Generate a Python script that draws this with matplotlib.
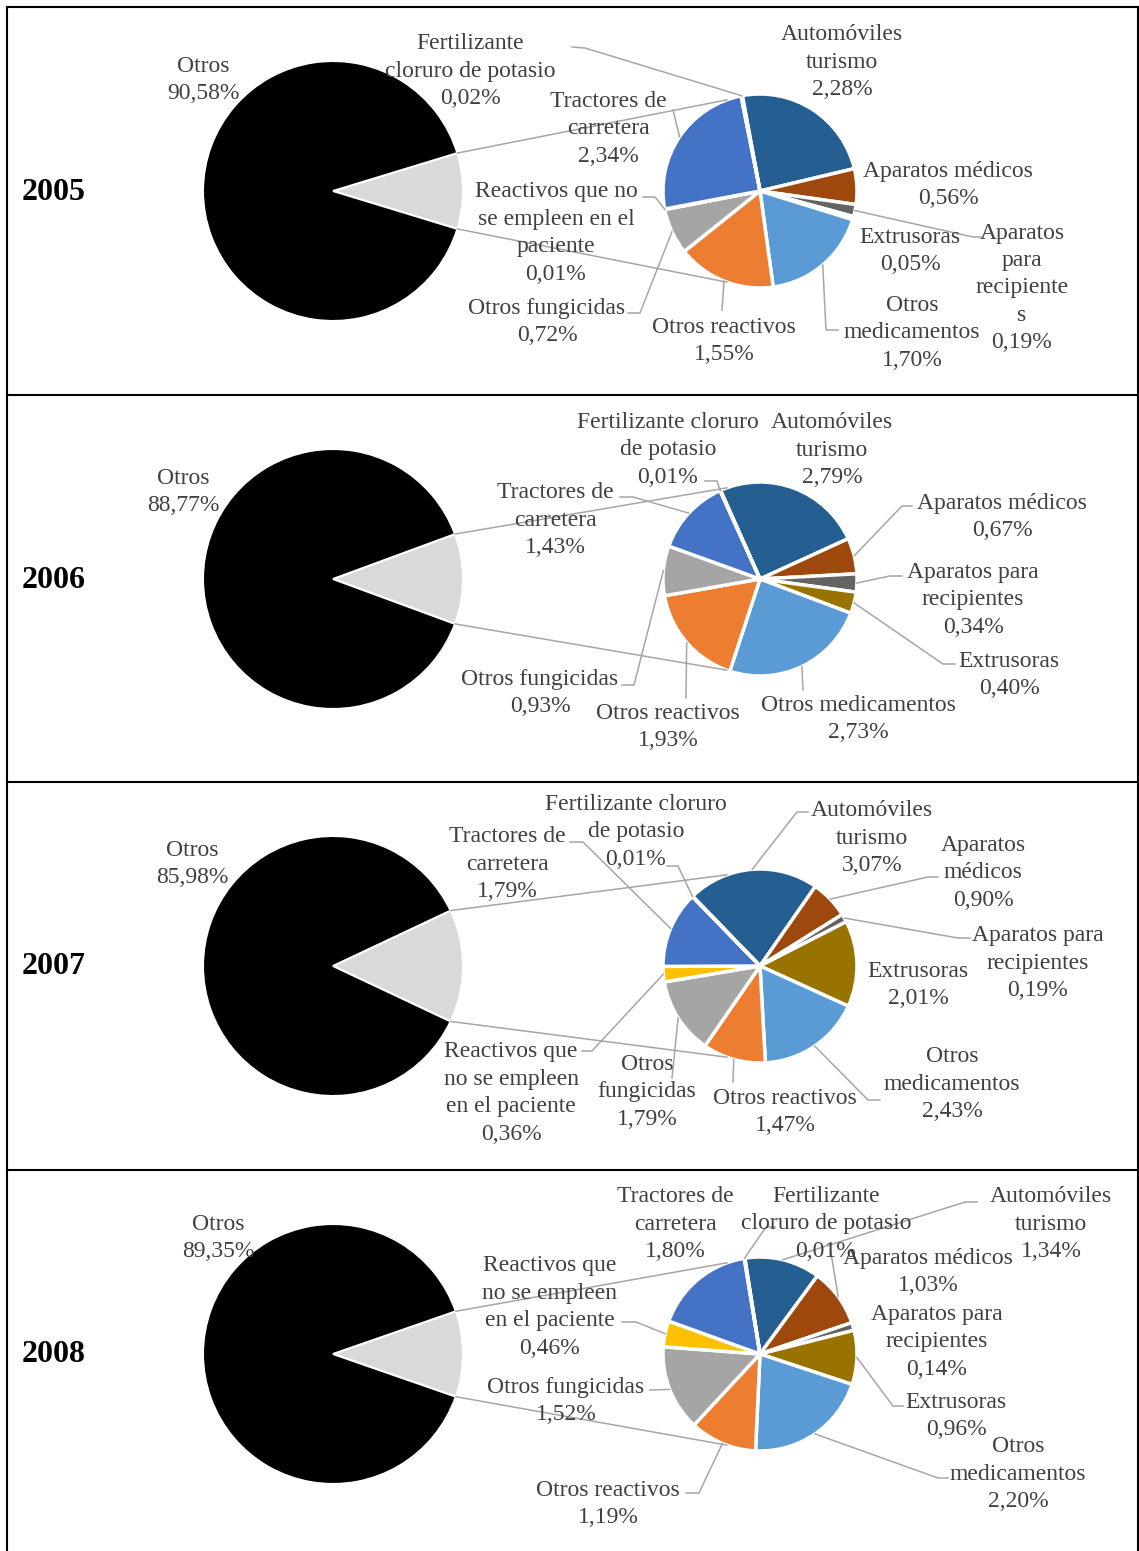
import matplotlib
matplotlib.use("Agg")
import matplotlib.pyplot as plt
import numpy as np

plt.rcParams['font.family'] = ['Liberation Serif', 'DejaVu Serif']

W, H = 1139, 1551

# ---------------- data ----------------
years = ["2005", "2006", "2007", "2008"]
otros = [90.58, 88.77, 85.98, 89.35]
categories = ["Automóviles turismo", "Aparatos médicos", "Aparatos para recipientes",
              "Extrusoras", "Otros medicamentos", "Otros reactivos", "Otros fungicidas",
              "Reactivos que no se empleen en el paciente", "Tractores de carretera",
              "Fertilizante cloruro de potasio"]
vals_2005 = [2.28, 0.56, 0.19, 0.05, 1.70, 1.55, 0.72, 0.01, 2.34, 0.02]
vals_2006 = [2.79, 0.67, 0.34, 0.40, 2.73, 1.93, 0.93, 0.00, 1.43, 0.01]
vals_2007 = [3.07, 0.90, 0.19, 2.01, 2.43, 1.47, 1.79, 0.36, 1.79, 0.01]
vals_2008 = [1.34, 1.03, 0.14, 0.96, 2.20, 1.19, 1.52, 0.46, 1.80, 0.01]
all_vals = [vals_2005, vals_2006, vals_2007, vals_2008]

colors = ["#255E91", "#9E480E", "#636363", "#997300", "#5B9BD5", "#ED7D31",
          "#A5A5A5", "#FFC000", "#4472C4", "#70AD47"]

# ---------------- layout ----------------
panel_tops = [7, 395, 782, 1170]
CY_OFF = 184
BIG_CX, BIG_R = 333, 130
SM_CX, SM_R = 760, 97
sm_start = [100.5, 114, 134, 99]
LINE_COLOR = "#A6A6A6"
TXT_COLOR = "#404040"
LS = 27.5
FS = 17

otros_lbl_pos = [(203, 78), (183, 490), (192, 862), (218, 1236)]

# (category index, x, y, wrapped name lines, waypoints from label toward slice)
label_specs = [
    [
        (9, 470, 69, ["Fertilizante", "cloruro de potasio"], [(572, 47), (585, 48)]),
        (0, 842, 60, ["Automóviles", "turismo"], None),
        (8, 608, 127, ["Tractores de", "carretera"], [(673, 110)]),
        (7, 556, 231, ["Reactivos que no", "se empleen en el", "paciente"], [(643, 197), (655, 197)]),
        (6, 547, 320, ["Otros fungicidas"], [(628, 313), (640, 313)]),
        (5, 724, 339, ["Otros reactivos"], [(722, 310)]),
        (4, 912, 331, ["Otros", "medicamentos"], [(838, 330), (826, 330)]),
        (3, 910, 249, ["Extrusoras"], None),
        (1, 948, 183, ["Aparatos médicos"], None),
        (2, 1022, 286, ["Aparatos", "para", "recipiente", "s"], [(982, 237), (973, 237)]),
    ],
    [
        (9, 668, 448, ["Fertilizante cloruro", "de potasio"], [(705, 481), (717, 481)]),
        (0, 832, 448, ["Automóviles", "turismo"], None),
        (8, 555, 518, ["Tractores de", "carretera"], [(620, 497), (633, 497)]),
        (1, 1002, 515, ["Aparatos médicos"], [(912, 506), (902, 506)]),
        (2, 973, 598, ["Aparatos para", "recipientes"], [(902, 576), (890, 576)]),
        (3, 1009, 673, ["Extrusoras"], [(955, 664), (943, 664)]),
        (4, 858, 717, ["Otros medicamentos"], [(803, 690)]),
        (5, 668, 725, ["Otros reactivos"], [(686, 698)]),
        (6, 540, 691, ["Otros fungicidas"], [(622, 685), (634, 685)]),
    ],
    [
        (9, 636, 830, ["Fertilizante cloruro", "de potasio"], [(667, 866), (678, 866)]),
        (0, 872, 836, ["Automóviles", "turismo"], [(808, 812), (797, 812)]),
        (8, 507, 862, ["Tractores de", "carretera"], [(570, 842), (583, 842)]),
        (1, 983, 871, ["Aparatos", "médicos"], [(938, 877), (928, 877)]),
        (2, 1038, 961, ["Aparatos para", "recipientes"], [(970, 938), (958, 938)]),
        (3, 918, 983, ["Extrusoras"], None),
        (4, 952, 1082, ["Otros", "medicamentos"], [(880, 1100), (868, 1100)]),
        (5, 785, 1110, ["Otros reactivos"], [(733, 1082)]),
        (6, 647, 1090, ["Otros", "fungicidas"], [(672, 1078)]),
        (7, 511, 1091, ["Reactivos que", "no se empleen", "en el paciente"], [(582, 1051), (592, 1051)]),
    ],
    [
        (8, 675, 1222, ["Tractores de", "carretera"], None),
        (9, 826, 1222, ["Fertilizante", "cloruro de potasio"], [(775, 1227), (766, 1227)]),
        (0, 1051, 1222, ["Automóviles", "turismo"], [(977, 1202), (965, 1202)]),
        (1, 928, 1270, ["Aparatos médicos"], [(831, 1253)]),
        (2, 937, 1340, ["Aparatos para", "recipientes"], None),
        (3, 956, 1414, ["Extrusoras"], [(903, 1406), (893, 1406)]),
        (4, 1018, 1472, ["Otros", "medicamentos"], [(948, 1478), (938, 1478)]),
        (5, 608, 1502, ["Otros reactivos"], [(686, 1493), (699, 1493)]),
        (6, 566, 1399, ["Otros fungicidas"], [(650, 1390)]),
        (7, 550, 1305, ["Reactivos que", "no se empleen", "en el paciente"], [(622, 1322), (636, 1322)]),
    ],
]


def pct(v):
    return f"{v:.2f}".replace(".", ",") + "%"


fig = plt.figure(figsize=(W / 100, H / 100), dpi=100)
ax = fig.add_axes([0, 0, 1, 1])


def Y(y):
    return H - y


def draw_label(x, y, lines):
    n = len(lines)
    for i, s in enumerate(lines):
        yc = y + (i - (n - 1) / 2) * LS
        ax.text(x, Y(yc + 7.5), s, ha="center", va="baseline", fontsize=FS,
                color=TXT_COLOR, zorder=5)


for p, top in enumerate(panel_tops):
    cy = top + CY_OFF
    vals = all_vals[p]
    rest = sum(vals)
    half = rest / (rest + otros[p]) * 180.0

    # primary pie
    ax.pie([rest, otros[p]], colors=["#D9D9D9", "black"], startangle=-half,
           counterclock=True, center=(BIG_CX, Y(cy)), radius=BIG_R,
           wedgeprops=dict(edgecolor="white", linewidth=1.5), frame=True)

    # secondary pie (skip zero values)
    idx = [i for i, v in enumerate(vals) if v > 0]
    wedges, _ = ax.pie([vals[i] for i in idx], colors=[colors[i] for i in idx],
                       startangle=sm_start[p], counterclock=False,
                       center=(SM_CX, Y(cy)), radius=SM_R,
                       wedgeprops=dict(edgecolor="white", linewidth=2.5), frame=True)
    mid = {}
    for i, w in zip(idx, wedges):
        mid[i] = np.deg2rad((w.theta1 + w.theta2) / 2)

    # connector lines
    for sgn in (1, -1):
        x0 = BIG_CX + BIG_R * np.cos(np.deg2rad(half))
        y0 = Y(cy) + sgn * BIG_R * np.sin(np.deg2rad(half))
        a = np.deg2rad(110 if sgn > 0 else 250)
        x1 = SM_CX + SM_R * np.cos(a)
        y1 = Y(cy) + SM_R * np.sin(a)
        ax.plot([x0, x1], [y0, y1], color=LINE_COLOR, lw=1.1, zorder=4)

    # labels
    lx, ly = otros_lbl_pos[p]
    draw_label(lx, ly, ["Otros", pct(otros[p])])
    for (ci, x, y, names, wps) in label_specs[p]:
        draw_label(x, y, names + [pct(vals[ci])])
        if wps:
            xs = [q[0] for q in wps]
            ys = [Y(q[1]) for q in wps]
            xs.append(SM_CX + SM_R * np.cos(mid[ci]))
            ys.append(Y(cy) + SM_R * np.sin(mid[ci]))
            ax.plot(xs, ys, color=LINE_COLOR, lw=1.1, zorder=4)

    # year label
    ax.text(22, Y(cy + 1), years[p], ha="left", va="center", fontsize=23,
            fontweight="bold", color="black")

# panel borders
for top in panel_tops:
    ax.plot([7, W], [Y(top), Y(top)], color="black", lw=1.5, zorder=6)
ax.plot([7, 7], [Y(7), 0], color="black", lw=1.5, zorder=6)
ax.plot([W - 1.5, W - 1.5], [Y(7), 0], color="black", lw=1.5, zorder=6)

ax.set_xlim(0, W)
ax.set_ylim(0, H)
ax.set_aspect("equal")
ax.axis("off")

fig.savefig("out.png", dpi=100)
